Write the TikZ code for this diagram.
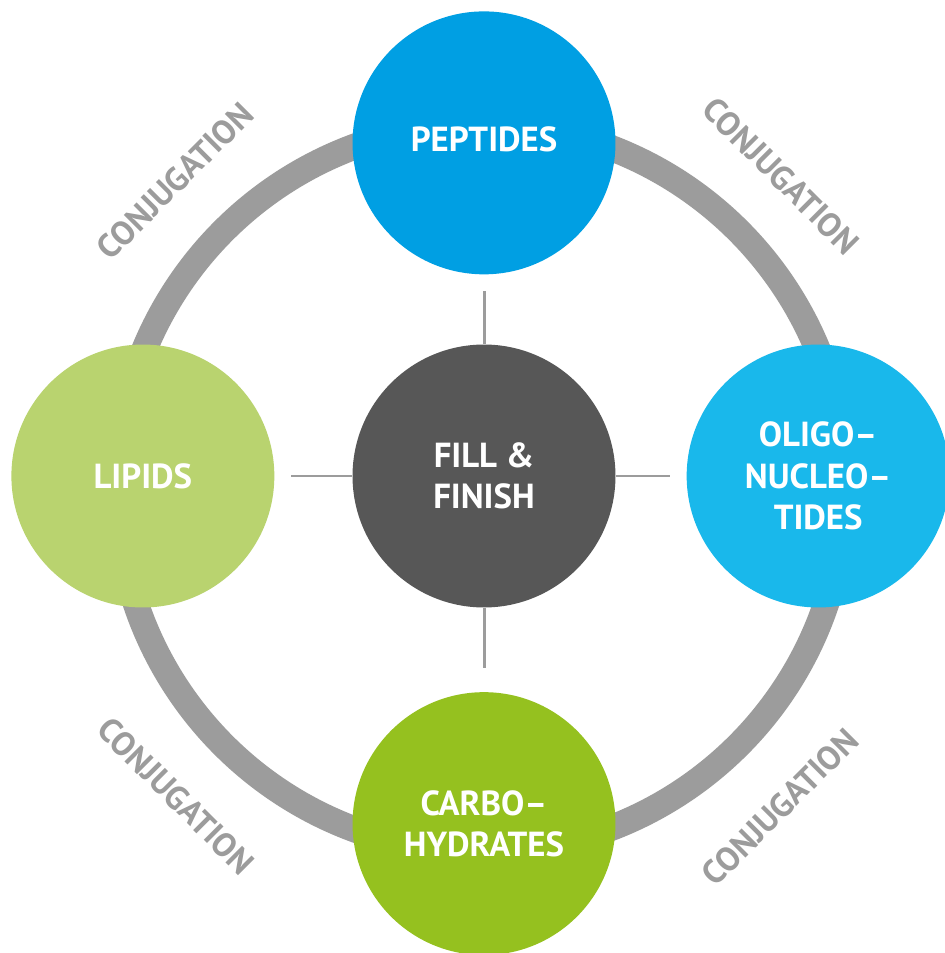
\documentclass[tikz,border=0pt]{standalone}
\usepackage{fontspec}
\setmainfont{PT Sans}
\usetikzlibrary{positioning}

\definecolor{peptideblue}{HTML}{009FE3}
\definecolor{oligoblue}{HTML}{19B8EB}
\definecolor{lipidgreen}{HTML}{B9D36F}
\definecolor{carbogreen}{HTML}{95C11F}
\definecolor{finishgray}{HTML}{575757}
\definecolor{ringgray}{HTML}{9C9C9C}

\begin{document}
\begin{tikzpicture}
    [x=0.02cm, y=-0.02cm,
     topic/.style={circle, minimum size=5.26cm, inner sep=0pt, align=center,
                   text=white, font=\bfseries\fontsize{19.8}{23.5}\selectfont},
     spoke/.style={draw=ringgray, line width=1.7pt, shorten >=9.5pt},
     conj/.style={text=ringgray, inner sep=0pt, font=\bfseries\fontsize{19}{22}\selectfont},
    ]
    \useasboundingbox (0,0) rectangle (944,953);
    \fill[white] (0,0) rectangle (944,953);

    \coordinate (hub) at (481,488);
    \draw[ringgray, line width=14.8pt] (hub) circle [radius=7.28cm];

    \node (fill) [topic, fill=finishgray] at (484,476) {FILL \&\\FINISH};
    \node (peptides) [topic, fill=peptideblue, above=1.39cm of fill] {\raisebox{4pt}{PEPTIDES}};
    \node (lipids) [topic, fill=lipidgreen, left=1.55cm of fill] {LIPIDS};
    \node (oligo) [topic, fill=oligoblue, right=1.41cm of fill] {OLIGO--\\NUCLEO--\\TIDES};
    \node (carbo) [topic, fill=carbogreen, below=1.68cm of fill] {CARBO--\\HYDRATES};

    \draw [spoke] (fill) -- (peptides);
    \draw [spoke] (fill) -- (lipids);
    \draw [spoke] (fill) -- (oligo);
    \draw [spoke, shorten >=13.5pt] (fill) -- (carbo);

    \node (conj-tl) [conj, rotate=45] at (175,181) {CONJUGATION};
    \node (conj-tr) [conj, rotate=-45] at (781,176) {CONJUGATION};
    \node (conj-bl) [conj, rotate=-45] at (176,796) {CONJUGATION};
    \node (conj-br) [conj, rotate=45] at (780,807) {CONJUGATION};

\end{tikzpicture}
\end{document}
